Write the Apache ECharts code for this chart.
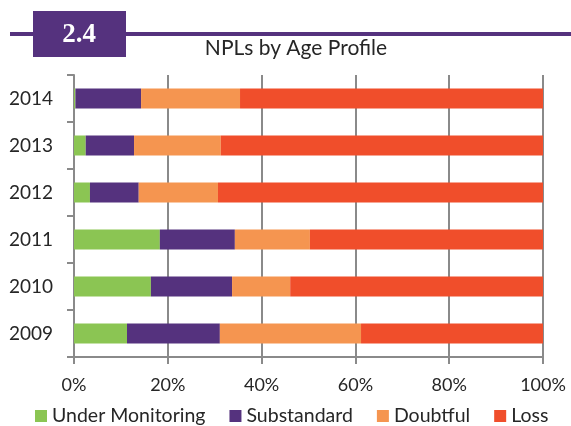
<!DOCTYPE html>
<html>
<head>
<meta charset="UTF-8">
<title>NPLs by Age Profile</title>
<script src="https://cdn.jsdelivr.net/npm/echarts@6/dist/echarts.min.js"></script>
<style>
  body { margin: 0; background: #fff; }
  #chart { width: 571px; height: 426px; }
</style>
</head>
<body>
<div id="chart"></div>
<script type="text/javascript">
    // values, % of NPLs per year
    var years = ['2009', '2010', '2011', '2012', '2013', '2014'];
    var underMonitoring = [11.3, 16.4, 18.3, 3.4, 2.5, 0.3];
    var substandard = [19.8, 17.3, 16.0, 10.4, 10.3, 14.0];
    var doubtful = [30.1, 12.4, 16.0, 16.9, 18.5, 21.1];
    var loss = [38.8, 53.9, 49.7, 69.3, 68.7, 64.6];
    var xTicks = ['0%', '20%', '40%', '60%', '80%', '100%'];

    var font = 'Lato, "Open Sans", sans-serif';
    var chart = echarts.init(document.getElementById('chart'));

    function bar(name, data, color) {
        return {
            name: name,
            type: 'bar',
            stack: 'total',
            barWidth: 20,
            data: data,
            itemStyle: { color: color },
            emphasis: { disabled: true }
        };
    }

    chart.setOption({
        animation: false,
        textStyle: { fontFamily: font },
        title: {
            text: 'NPLs by Age Profile',
            left: 296,
            textAlign: 'center',
            top: 38,
            padding: 0,
            textStyle: { fontSize: 21, fontWeight: 'normal', color: '#262626', fontFamily: font }
        },
        graphic: [
            { type: 'rect', shape: { x: 10, y: 32, width: 561, height: 4 }, style: { fill: '#55327e' } },
            { type: 'rect', shape: { x: 33, y: 11, width: 93, height: 46 }, style: { fill: '#55327e' } },
            { type: 'text', x: 79, y: 35, style: { text: '2.4', fill: '#fff', align: 'center', verticalAlign: 'middle', font: 'bold 27px "Liberation Serif", "DejaVu Serif", serif' } }
        ],
        legend: {
            left: 35,
            top: 405,
            padding: 0,
            itemWidth: 12,
            itemHeight: 12,
            itemGap: 24,
            icon: 'rect',
            textStyle: { fontSize: 19.5, lineHeight: 22, color: '#262626', fontFamily: font },
            data: ['Under Monitoring', 'Substandard', 'Doubtful', 'Loss']
        },
        grid: { left: 74, right: 28, top: 75, bottom: 69 },
        xAxis: {
            type: 'value',
            min: 0,
            max: 100,
            interval: 20,
            axisLine: { show: true, lineStyle: { color: '#8a8a8a', width: 2 } },
            axisTick: { show: true, length: 7, lineStyle: { color: '#8a8a8a', width: 2 } },
            splitLine: { show: true, lineStyle: { color: '#8a8a8a', width: 2 } },
            axisLabel: {
                fontSize: 18, color: '#262626', margin: 19, fontFamily: font,
                formatter: function (v) { return xTicks[Math.round(v / 20)]; }
            }
        },
        yAxis: {
            type: 'category',
            data: years,
            axisLine: { show: true, lineStyle: { color: '#8a8a8a', width: 2 } },
            axisTick: { show: true, length: 7, lineStyle: { color: '#8a8a8a', width: 2 } },
            axisLabel: { fontSize: 19, color: '#262626', margin: 21, fontFamily: font }
        },
        series: [
            bar('Under Monitoring', underMonitoring, '#8bc553'),
            bar('Substandard', substandard, '#55327e'),
            bar('Doubtful', doubtful, '#f59550'),
            bar('Loss', loss, '#f04e2b')
        ]
    });
</script>
</body>
</html>
